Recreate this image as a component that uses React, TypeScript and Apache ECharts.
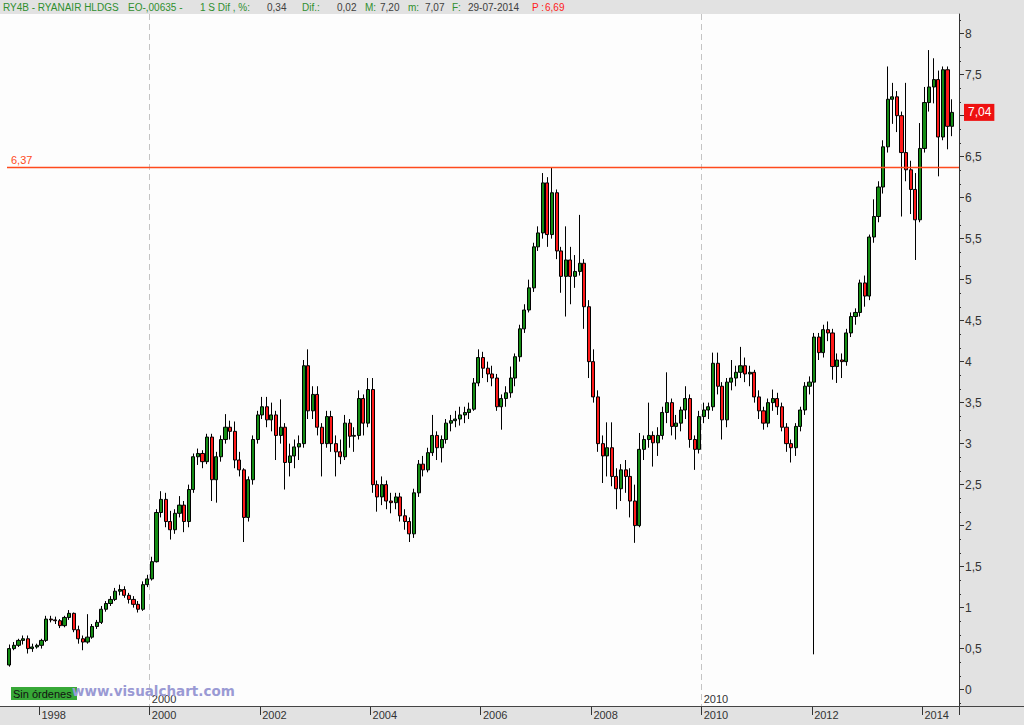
import React, { useEffect, useRef } from 'react';
import * as echarts from 'echarts';

// Monthly candles, each [open, close, low, high]
const Y1997 = [
  [0.30,0.50,0.28,0.55],[0.50,0.54,0.48,0.58],[0.54,0.60,0.52,0.62],[0.60,0.62,0.55,0.66],[0.62,0.50,0.44,0.66],[0.50,0.52,0.46,0.56],[0.52,0.54,0.50,0.56]];
const Y1998 = [
  [0.54,0.60,0.50,0.62],[0.60,0.86,0.58,0.90],[0.86,0.85,0.82,0.90],[0.85,0.84,0.80,0.89],[0.84,0.78,0.75,0.86],[0.78,0.88,0.76,0.90],[0.88,0.93,0.85,0.97],[0.93,0.73,0.70,0.94],[0.73,0.62,0.56,0.78],[0.62,0.58,0.48,0.66],[0.58,0.64,0.56,0.92],[0.64,0.77,0.62,0.80]];
const Y1999 = [
  [0.77,0.82,0.74,0.85],[0.82,0.98,0.80,1.02],[0.98,1.05,0.95,1.08],[1.05,1.10,1.02,1.14],[1.10,1.20,1.08,1.24],[1.20,1.22,1.15,1.28],[1.22,1.15,1.12,1.26],[1.15,1.10,1.05,1.18],[1.10,1.04,1.00,1.14],[1.04,0.98,0.94,1.08],[0.98,1.28,0.96,1.32],[1.28,1.35,1.25,1.40]];
const Y2000 = [
  [1.35,1.56,1.33,1.62],[1.56,2.16,1.55,2.20],[2.16,2.32,2.10,2.42],[2.32,2.05,1.98,2.40],[2.05,1.95,1.83,2.18],[1.95,2.15,1.90,2.20],[2.15,2.25,2.10,2.36],[2.25,2.05,1.92,2.30],[2.05,2.44,1.98,2.50],[2.44,2.84,2.40,2.88],[2.84,2.88,2.74,2.94],[2.88,2.78,2.70,2.92]];
const Y2001 = [
  [2.78,3.08,2.75,3.12],[3.08,2.56,2.30,3.12],[2.56,2.84,2.28,2.90],[2.84,3.05,2.78,3.10],[3.05,3.20,3.00,3.36],[3.20,3.15,3.05,3.28],[3.15,2.80,2.70,3.27],[2.80,2.68,2.60,2.90],[2.68,2.10,1.80,2.70],[2.10,2.56,2.05,2.60],[2.56,3.05,2.50,3.10],[3.05,3.35,3.00,3.40]];
const Y2002 = [
  [3.35,3.45,3.30,3.57],[3.45,3.29,3.20,3.57],[3.29,3.35,3.15,3.50],[3.35,3.10,2.80,3.40],[3.10,3.20,3.00,3.54],[3.20,2.77,2.44,3.25],[2.77,2.85,2.60,3.00],[2.85,2.96,2.70,3.05],[2.96,3.00,2.80,3.10],[3.00,3.95,2.95,4.02],[3.95,3.40,3.30,4.15],[3.40,3.60,3.30,3.70]];
const Y2003 = [
  [3.60,3.20,3.10,3.70],[3.20,3.00,2.60,3.25],[3.00,3.33,2.95,3.40],[3.33,3.00,2.90,3.40],[3.00,2.90,2.60,3.10],[2.90,2.84,2.75,3.05],[2.84,3.25,2.80,3.35],[3.25,3.09,2.95,3.30],[3.09,3.10,2.90,3.20],[3.10,3.55,3.05,3.65],[3.55,3.25,3.10,3.60],[3.25,3.66,3.20,3.80]];
const Y2004 = [
  [3.66,2.50,2.40,3.80],[2.50,2.35,2.17,2.55],[2.35,2.50,2.25,2.60],[2.50,2.30,2.20,2.55],[2.30,2.28,2.15,2.40],[2.28,2.35,2.20,2.40],[2.35,2.12,2.05,2.40],[2.12,2.05,1.95,2.20],[2.05,1.90,1.80,2.10],[1.90,2.40,1.85,2.45],[2.40,2.75,2.35,2.80],[2.75,2.68,2.60,2.85]];
const Y2005 = [
  [2.68,2.89,2.65,2.95],[2.89,3.10,2.85,3.35],[3.10,2.95,2.80,3.15],[2.95,3.05,2.77,3.10],[3.05,3.25,3.00,3.30],[3.25,3.28,3.15,3.35],[3.28,3.30,3.20,3.40],[3.30,3.35,3.22,3.45],[3.35,3.38,3.25,3.45],[3.38,3.42,3.30,3.50],[3.42,3.74,3.40,3.80],[3.74,4.05,3.70,4.15]];
const Y2006 = [
  [4.05,3.92,3.80,4.12],[3.92,3.85,3.75,4.00],[3.85,3.80,3.70,3.95],[3.80,3.45,3.40,3.85],[3.45,3.55,3.17,3.60],[3.55,3.62,3.45,3.70],[3.62,3.80,3.56,3.94],[3.80,4.06,3.70,4.10],[4.06,4.40,4.00,4.45],[4.40,4.63,4.35,4.70],[4.63,4.90,4.60,5.00],[4.90,5.40,4.85,5.45]];
const Y2007 = [
  [5.40,5.57,5.35,5.65],[5.57,6.18,5.50,6.30],[6.18,5.55,5.40,6.25],[5.55,6.06,5.50,6.37],[6.06,5.35,5.25,6.10],[5.35,5.04,4.84,5.40],[5.04,5.24,4.55,5.65],[5.24,5.04,4.70,5.40],[5.04,5.10,4.90,5.30],[5.10,5.20,5.05,5.79],[5.20,4.67,4.40,5.25],[4.67,4.00,3.80,4.75]];
const Y2008 = [
  [4.00,3.57,3.50,4.15],[3.57,3.00,2.90,3.65],[3.00,2.85,2.52,3.10],[2.85,2.95,2.60,3.26],[2.95,2.60,2.48,3.26],[2.60,2.45,2.20,2.70],[2.45,2.68,2.30,2.75],[2.68,2.60,2.40,2.80],[2.60,2.30,2.10,2.70],[2.30,2.00,1.79,2.50],[2.00,2.93,1.98,3.13],[2.93,3.05,2.80,3.10]];
const Y2009 = [
  [3.05,3.10,2.95,3.50],[3.10,3.01,2.72,3.15],[3.01,3.10,2.85,3.20],[3.10,3.38,3.05,3.45],[3.38,3.50,3.25,3.87],[3.50,3.21,3.10,3.55],[3.21,3.25,3.05,3.35],[3.25,3.41,3.15,3.45],[3.41,3.55,3.30,3.70],[3.55,3.05,2.95,3.60],[3.05,2.93,2.68,3.10],[2.93,3.33,2.88,3.40]];
const Y2010 = [
  [3.33,3.41,3.25,3.50],[3.41,3.45,3.30,3.50],[3.45,3.98,3.40,4.11],[3.98,3.70,3.60,4.11],[3.70,3.29,3.05,3.75],[3.29,3.75,3.20,3.80],[3.75,3.80,3.65,4.02],[3.80,3.87,3.70,3.95],[3.87,3.95,3.80,4.18],[3.95,3.85,3.75,4.05],[3.85,3.87,3.70,3.95],[3.87,3.57,3.50,3.90]];
const Y2011 = [
  [3.57,3.40,3.30,3.65],[3.40,3.25,3.17,3.45],[3.25,3.50,3.20,3.55],[3.50,3.55,3.40,3.66],[3.55,3.45,3.35,3.62],[3.45,3.20,3.15,3.50],[3.20,3.00,2.90,3.25],[3.00,2.95,2.77,3.05],[2.95,3.21,2.85,3.25],[3.21,3.41,3.15,3.45],[3.41,3.70,3.35,3.75],[3.70,3.75,3.60,3.82]];
const Y2012 = [
  [3.75,4.30,0.43,4.35],[4.30,4.11,4.02,4.35],[4.11,4.39,4.05,4.45],[4.39,4.35,4.25,4.49],[4.35,3.94,3.78,4.40],[3.94,4.02,3.74,4.10],[4.02,4.00,3.80,4.10],[4.00,4.35,3.95,4.40],[4.35,4.55,4.30,4.60],[4.55,4.60,4.45,4.65],[4.60,4.96,4.55,5.00],[4.96,4.80,4.67,5.05]];
const Y2013 = [
  [4.80,5.52,4.75,5.55],[5.52,5.77,5.45,5.98],[5.77,6.13,5.70,6.20],[6.13,6.62,6.05,6.70],[6.62,7.20,6.55,7.60],[7.20,7.23,6.90,7.40],[7.23,7.00,6.80,7.30],[7.00,6.55,5.77,7.05],[6.55,6.34,6.20,7.40],[6.34,6.10,5.80,6.45],[6.10,5.73,5.24,6.30],[5.73,6.60,5.70,6.91]];
const Y2014 = [
  [6.60,7.16,6.55,7.35],[7.16,7.35,7.05,7.80],[7.35,7.44,7.15,7.70],[7.44,6.74,6.26,7.55],[6.74,7.56,6.70,7.60],[7.56,6.87,6.59,7.60],[6.87,7.04,6.75,7.20]];

const FIRST_MONTH = 6; // series starts June 1997
const YEARS: [number, number[][]][] = [
  [1997, Y1997],[1998, Y1998],[1999, Y1999],[2000, Y2000],[2001, Y2001],[2002, Y2002],
  [2003, Y2003],[2004, Y2004],[2005, Y2005],[2006, Y2006],[2007, Y2007],[2008, Y2008],
  [2009, Y2009],[2010, Y2010],[2011, Y2011],[2012, Y2012],[2013, Y2013],[2014, Y2014]];
const TRAILING = ['2014-08'];

const TICK_YEARS = ['1998','2000','2002','2004','2006','2008','2010','2012','2014'];
const SEP_YEARS = ['2000','2010'];
const Y_TICKS = [0,0.5,1,1.5,2,2.5,3,3.5,4,4.5,5,5.5,6,6.5,7,7.5,8];
const REF_LEVEL = 6.37;
const LAST_PRICE = 7.04;
const Y_MIN = -0.2;
const Y_MAX = 8.24;

const HEADER: [string, string, number][] = [
  ['RY4B - RYANAIR HLDGS', 'g', 3],
  ['EO-,00635 -', 'g', 128],
  ['1 S Dif , %:', 'g', 200],
  ['0,34', 'd', 267],
  ['Dif.:', 'g', 302],
  ['0,02', 'd', 337],
  ['M:', 'g', 365],
  ['7,20', 'd', 380],
  ['m:', 'g', 408],
  ['7,07', 'd', 425],
  ['F:', 'g', 452],
  ['29-07-2014', 'd', 468],
  ['P :', 'r', 532],
  ['6,69', 'r', 545],
];

const pad = (m: number) => (m < 10 ? '0' + m : '' + m);
const categories: string[] = [];
const candles: number[][] = [];
YEARS.forEach(([y, arr]) => {
  const start = y === 1997 ? FIRST_MONTH : 1;
  arr.forEach((c, i) => {
    categories.push(`${y}-${pad(start + i)}`);
    candles.push(c);
  });
});
TRAILING.forEach((c) => categories.push(c));

const tickIdx = new Set<number>();
const sepIdx = new Set<number>();
categories.forEach((c, i) => {
  const [y, m] = c.split('-');
  if (m === '01' && TICK_YEARS.includes(y)) tickIdx.add(i);
  if (m === '01' && SEP_YEARS.includes(y)) sepIdx.add(i);
});

const minorTicks: number[] = [];
for (let i = -1; i < Y_TICKS.length; i++) {
  const base = i < 0 ? Y_TICKS[0] - 0.5 : Y_TICKS[i];
  [1 / 6, 2 / 6].forEach((f) => {
    const v = base + f;
    if (v > Y_MIN && v < Y_MAX) minorTicks.push(v);
  });
}
// the price tag covers the tick label that lies under it
const yLabels = Y_TICKS.filter((v) => Math.abs(v - LAST_PRICE) > 0.15);

const fmtNum = (v: number) => String(Math.round(v * 100) / 100).replace('.', ',');
const COLORS: Record<string, string> = { g: '#2f8f2f', d: '#404040', r: '#ff2020' };
const FONT = 'Liberation Sans';
const REF_COLOR = '#ff4a1c';

export default function App() {
  const ref = useRef<HTMLDivElement>(null);
  useEffect(() => {
    const chart = echarts.init(ref.current!, null, { renderer: 'svg' });
    const option: any = {
      animation: false,
      backgroundColor: 'transparent',
      textStyle: { fontFamily: FONT },
      grid: { left: 7, right: 65, top: 14, bottom: 19, containLabel: false },
      xAxis: [
        {
          type: 'category',
          data: categories,
          position: 'bottom',
          boundaryGap: true,
          axisLine: { show: false, onZero: false },
          axisTick: { show: true, interval: (i: number) => tickIdx.has(i), length: 9, lineStyle: { color: '#333' } },
          axisLabel: {
            interval: (i: number) => tickIdx.has(i),
            formatter: (v: string) => v.slice(0, 4),
            align: 'left', margin: 3, color: '#333', fontSize: 11, fontFamily: FONT,
          },
          splitLine: { show: true, interval: (i: number) => sepIdx.has(i), lineStyle: { color: '#c4c4c4', type: [6, 4], width: 1 } },
        },
        {
          type: 'category',
          data: categories,
          position: 'bottom',
          boundaryGap: true,
          axisLine: { show: false, onZero: false },
          axisTick: { show: false },
          splitLine: { show: false },
          axisLabel: {
            inside: true,
            interval: (i: number) => sepIdx.has(i),
            formatter: (v: string) => v.slice(0, 4),
            align: 'left', margin: 2, color: '#333', fontSize: 11, fontFamily: FONT,
          },
        },
      ],
      yAxis: [
        {
          type: 'value',
          position: 'right',
          min: Y_MIN,
          max: Y_MAX,
          splitLine: { show: false },
          axisLine: { show: true, lineStyle: { color: '#333' } },
          axisTick: { show: true, customValues: Y_TICKS, length: 5, lineStyle: { color: '#333' } },
          axisLabel: { customValues: yLabels, formatter: fmtNum, color: '#333', fontSize: 12, margin: 6, fontFamily: FONT },
        },
        {
          type: 'value',
          position: 'right',
          min: Y_MIN,
          max: Y_MAX,
          splitLine: { show: false },
          axisLine: { show: false },
          axisTick: { show: true, customValues: minorTicks, length: 2, lineStyle: { color: '#333' } },
          axisLabel: {
            customValues: [LAST_PRICE], formatter: fmtNum, color: '#fff', fontSize: 12, margin: 5,
            backgroundColor: '#ee1111', padding: [3, 3, 2, 4], fontFamily: FONT,
          },
        },
      ],
      series: [
        {
          type: 'candlestick',
          data: candles,
          barWidth: 3.6,
          itemStyle: { color: '#148c14', color0: '#ff1a1a', borderColor: '#000', borderColor0: '#000', borderWidth: 1 },
        },
        {
          type: 'line',
          name: 'ref',
          data: [],
          silent: true,
          color: REF_COLOR,
          markLine: {
            symbol: ['none', 'none'],
            silent: true,
            precision: 2,
            data: [{ yAxis: REF_LEVEL }],
            lineStyle: { color: REF_COLOR, type: 'solid', width: 1.4, opacity: 1 },
            emphasis: { disabled: true },
            label: { position: 'insideStartTop', formatter: fmtNum(REF_LEVEL), color: REF_COLOR, fontSize: 11, distance: [4, 2], fontFamily: FONT },
          },
        },
      ],
      graphic: [
        { type: 'rect', z: -10, silent: true, shape: { x: 0, y: 14, width: 959, height: 692 }, style: { fill: '#fdfdfd' } },
        { type: 'line', z: 5, silent: true, shape: { x1: 0, y1: 706.5, x2: 1024, y2: 706.5 }, style: { stroke: '#444', lineWidth: 1 } },
        ...HEADER.map(([t, c, x]) => ({
          type: 'text', x, y: 7, silent: true,
          style: { text: t, fill: COLORS[c], fontSize: 10, fontFamily: FONT, verticalAlign: 'middle' },
        })),
        { type: 'rect', z: 6, silent: true, shape: { x: 11, y: 687, width: 66, height: 13 }, style: { fill: '#37a837' } },
        { type: 'text', z: 7, silent: true, x: 13, y: 694, style: { text: 'Sin órdenes', fill: '#111', fontSize: 11, fontFamily: FONT, verticalAlign: 'middle' } },
        { type: 'text', z: 8, silent: true, x: 72, y: 691, style: { text: 'www.visualchart.com', fill: '#9a9ad4', fontSize: 13.5, fontWeight: 'bold', fontFamily: 'DejaVu Sans', verticalAlign: 'middle' } },
      ],
    };
    chart.setOption(option);
    return () => chart.dispose();
  }, []);
  return (
    <div style={{ position: 'fixed', left: 0, top: 0, width: 1024, height: 725, background: '#e2e2e2' }}>
      <div ref={ref} style={{ width: 1024, height: 725 }} />
    </div>
  );
}
